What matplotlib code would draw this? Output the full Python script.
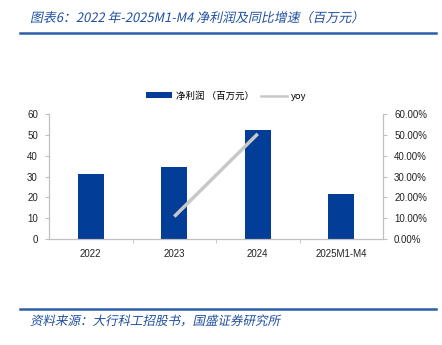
import matplotlib
matplotlib.use("Agg")
import matplotlib.pyplot as plt
from matplotlib.lines import Line2D
from matplotlib.patches import Patch, PathPatch
from matplotlib.textpath import TextPath
from matplotlib.font_manager import FontProperties
from matplotlib.transforms import Affine2D, IdentityTransform
import matplotlib.ticker as mt

plt.rcParams['font.family'] = ['Liberation Sans', 'Noto Sans CJK SC']

categories = ["2022", "2023", "2024", "2025M1-M4"]
profit = [31.4, 34.8, 52.4, 21.5]
yoy_x = ["2023", "2024"]
yoy = [10.8, 50.6]

title = "图表6：2022 年-2025M1-M4 净利润及同比增速（百万元）"
source = "资料来源：大行科工招股书，国盛证券研究所"
bar_label = "净利润 （百万元）"
line_label = "yoy"

W, H = 442, 345
DPI = 100
fig = plt.figure(figsize=(W/DPI, H/DPI), dpi=DPI)
ax = fig.add_axes([49/W, 1-239/H, (383-49)/W, (239-114.3)/H])
ax2 = ax.twinx()

blue = "#023d97"
gray_line = "#c8c8c8"
spine_c = "#c0c0c0"
lab_c = "#222222"

x = list(range(len(categories)))
ax.bar(x, profit, width=0.31, color=blue, zorder=2)
xi = [categories.index(c) for c in yoy_x]
ax2.plot(xi, yoy, color=gray_line, lw=2.5, solid_capstyle='butt', zorder=3)

ax.set_xlim(-0.5, len(categories)-0.5)
ax.set_ylim(0, 60)
ax.set_yticks(range(0, 61, 10))
ax2.set_ylim(0, 60)
ax2.set_yticks(range(0, 61, 10))
ax2.yaxis.set_major_formatter(mt.FuncFormatter(lambda v, p: f"{v:.2f}%"))

ax.set_xticks(x)
ax.set_xticklabels(categories)
ax.set_xticks([i+0.5 for i in x[:-1]], minor=True)
ax.tick_params(axis='x', which='major', length=0, pad=7, labelsize=7, colors=lab_c)
ax.tick_params(axis='x', which='minor', length=3, color=spine_c, direction='out')
ax.tick_params(axis='y', length=3, color=spine_c, labelsize=7, labelcolor=lab_c, pad=5)
ax2.tick_params(axis='y', length=3, color=spine_c, labelsize=7, labelcolor=lab_c, pad=5)

for a in (ax, ax2):
    for s in a.spines.values():
        s.set_color(spine_c)
        s.set_linewidth(0.8)
    a.spines['top'].set_visible(False)

handles = [Patch(facecolor=blue, edgecolor='none'),
           Line2D([0], [0], color=gray_line, lw=1.8)]
fig.legend(handles, [bar_label, line_label], loc='center', bbox_to_anchor=(226/W, 1-96/H),
           ncol=2, frameon=False, handlelength=2.8, handleheight=0.6,
           columnspacing=0.7, handletextpad=0.4,
           prop={'family': ['Noto Sans CJK SC', 'Liberation Sans'], 'size': 6.8})

title_c = "#1f4fa0"
cjk = FontProperties(family=['Noto Sans CJK SC', 'DejaVu Sans'])


def skew_text(s, x_px, baseline_from_top, size, color):
    tp = TextPath((0, 0), s, size=size, prop=cjk)
    tr = (Affine2D().skew_deg(12, 0).scale(DPI/72.0)
          .translate(x_px, H - baseline_from_top))
    patch = PathPatch(tp, transform=tr + IdentityTransform(), facecolor=color,
                      edgecolor='none', lw=0)
    fig.add_artist(patch)


skew_text(title, 30, 22, 9.3, title_c)
fig.add_artist(Line2D([20/W, 436/W], [1-33/H, 1-33/H], color="#2a5ea8", lw=1.8))
fig.add_artist(Line2D([20/W, 436/W], [1-309/H, 1-309/H], color="#2a5ea8", lw=1.8))
skew_text(source, 30, 325, 9.0, title_c)

fig.savefig("out.png", dpi=DPI)
